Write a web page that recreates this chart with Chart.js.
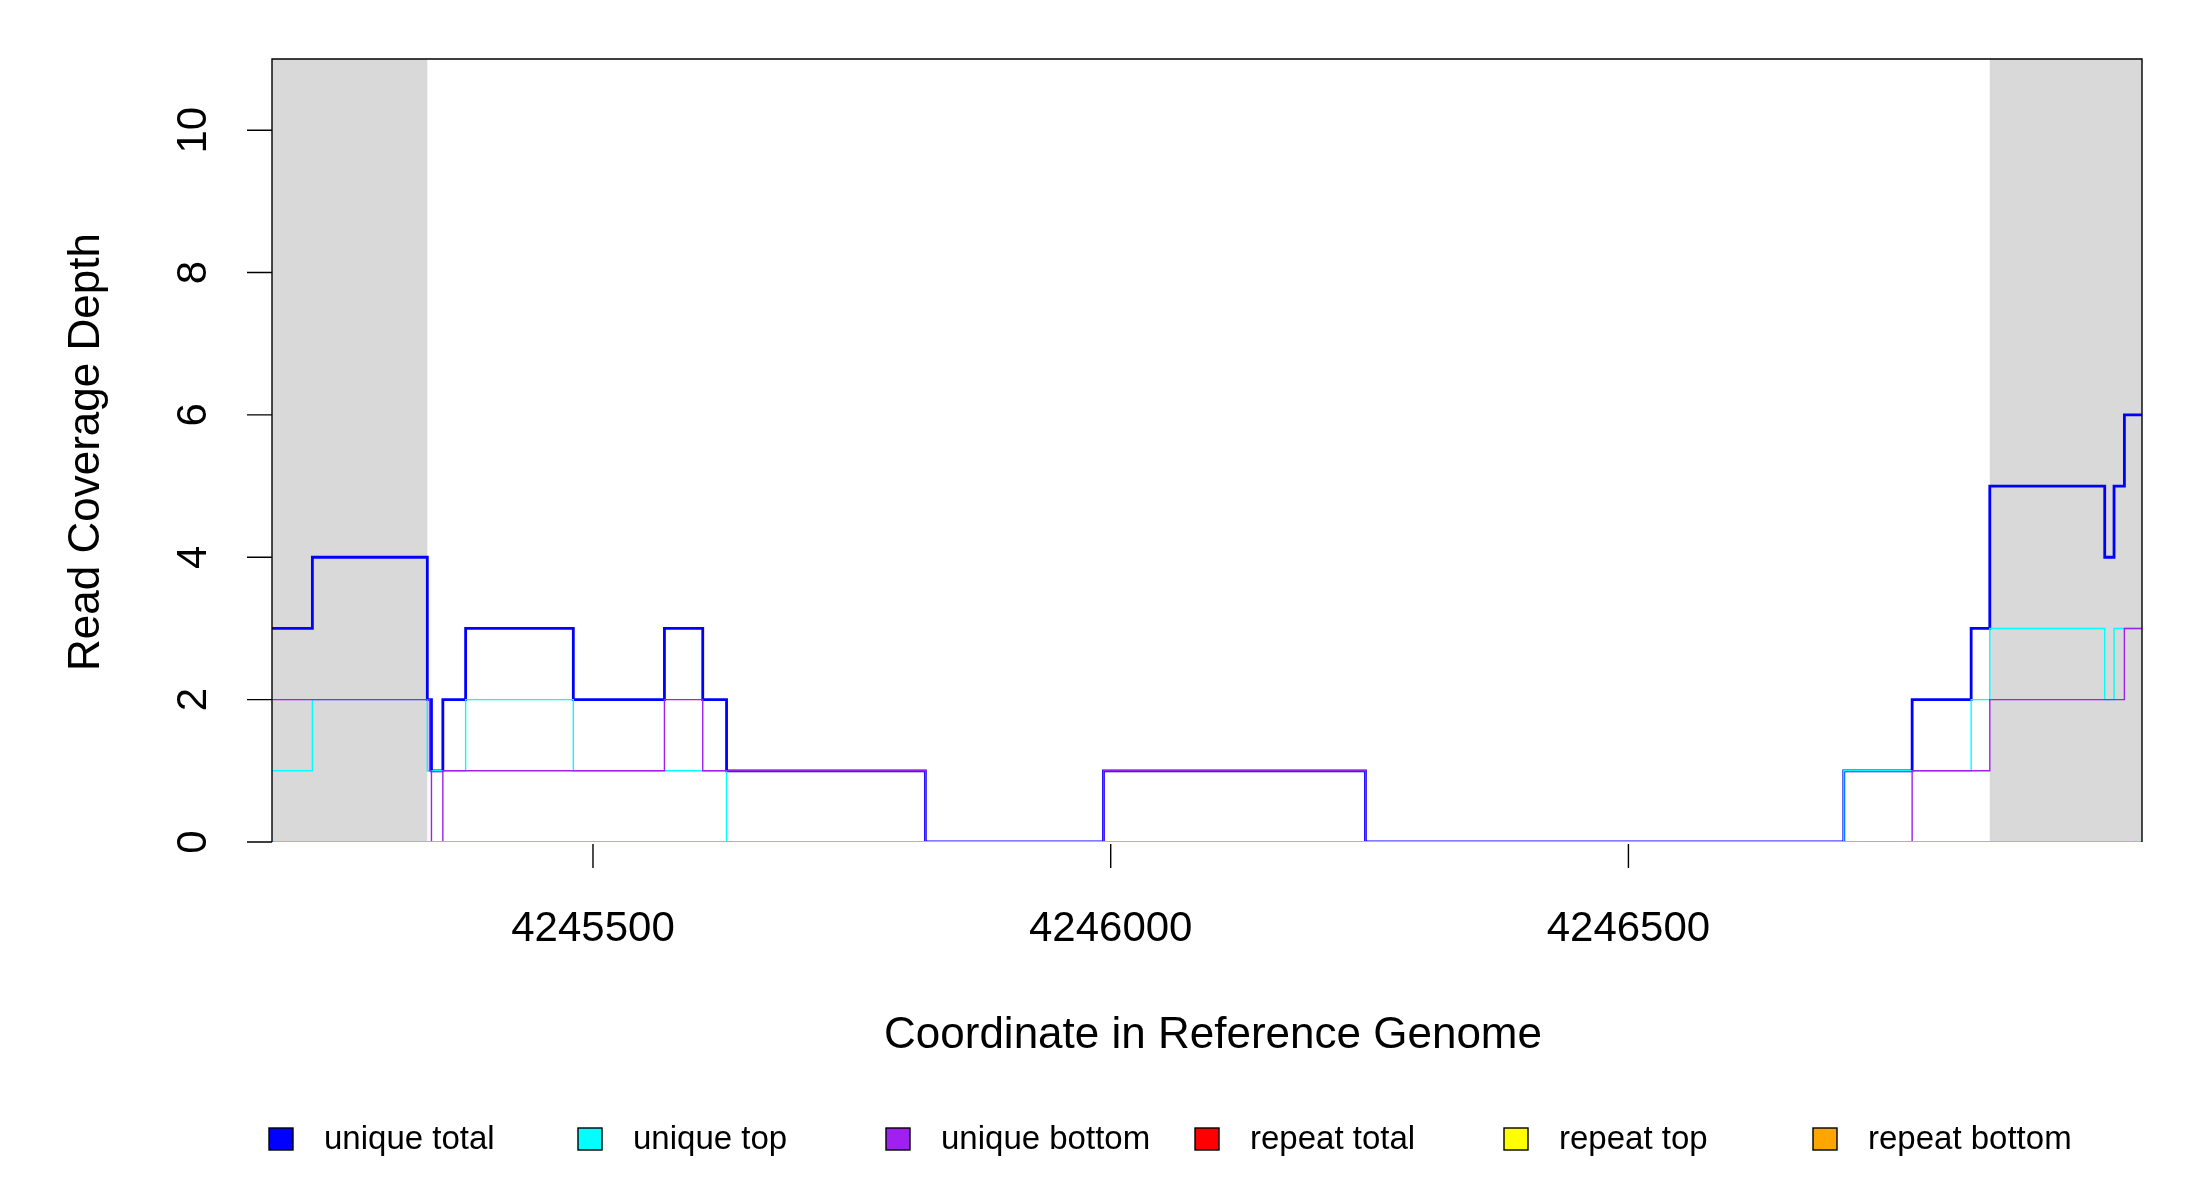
<!DOCTYPE html>
<html>
<head>
<meta charset="utf-8">
<script src="https://cdn.jsdelivr.net/npm/chart.js@4/dist/chart.umd.min.js"></script>
<style>
  html, body { margin: 0; padding: 0; background: #fff; }
  #wrap { width: 2200px; height: 1200px; }
</style>
</head>
<body>
<div id="wrap"><canvas id="cov" width="2200" height="1200"></canvas></div>
<script>
// coverage steps: each value is held from its start until the next start
const xMin = 4245190, xMax = 4246996;
const shadeRanges = [[4245190, 4245340], [4246849, 4246996]];
const xTicks = [4245500, 4246000, 4246500];
const yTicks = [0, 2, 4, 6, 8, 10];

const totalStarts = [4245190, 4245229, 4245340, 4245344, 4245355, 4245377, 4245481, 4245569, 4245606, 4245629, 4245821, 4245993, 4246246, 4246708, 4246774, 4246831, 4246849, 4246960, 4246969, 4246979];
const totalVals   = [3, 4, 2, 1, 2, 3, 2, 3, 2, 1, 0, 1, 0, 1, 2, 3, 5, 4, 5, 6];

const topStarts = [4245190, 4245229, 4245340, 4245377, 4245481, 4245629, 4246708, 4246831, 4246849, 4246960, 4246969];
const topVals   = [1, 2, 1, 2, 1, 0, 1, 2, 3, 2, 3];

const bottomStarts = [4245190, 4245342, 4245344, 4245355, 4245569, 4245606, 4245821, 4245993, 4246246, 4246774, 4246849, 4246979];
const bottomVals   = [2, 1, 0, 1, 2, 1, 0, 1, 0, 1, 2, 3];

const repeatStarts = [4245190];
const repeatVals   = [0];

const legendLabels = ['unique total', 'unique top', 'unique bottom', 'repeat total', 'repeat top', 'repeat bottom'];
const legendColors = ['#0000ff', '#00ffff', '#a020f0', '#ff0000', '#ffff00', '#ffa500'];

function steps(starts, vals) {
  const pts = starts.map((x, i) => ({ x: x, y: vals[i] }));
  pts.push({ x: xMax, y: vals[vals.length - 1] });
  return pts;
}

function ds(starts, vals, color, width) {
  return {
    data: steps(starts, vals),
    borderColor: color,
    borderWidth: width,
    pointRadius: 0,
    stepped: true,
    fill: false,
  };
}

// Chart.js paints dataset 0 last, so the top-most line comes first
const datasets = [
  ds(repeatStarts, repeatVals, '#ffa500', 1.4),
  ds(repeatStarts, repeatVals, '#ffff00', 1.4),
  ds(repeatStarts, repeatVals, '#ff0000', 1.4),
  ds(bottomStarts, bottomVals, '#a020f0', 1.4),
  ds(topStarts, topVals, '#00ffff', 1.4),
  ds(totalStarts, totalVals, '#0000ff', 2.8),
].reverse().reverse();
datasets.reverse();
// want: total underneath? no -- blue is on top in reference except orange on zero
datasets.reverse();

const font = '"Liberation Sans", Arial, sans-serif';

const decor = {
  id: 'decor',
  beforeDatasetsDraw(chart) {
    const ctx = chart.ctx, x = chart.scales.x, a = chart.chartArea;
    ctx.save();
    ctx.fillStyle = '#d9d9d9';
    shadeRanges.forEach(r => {
      const l = x.getPixelForValue(r[0]), rr = x.getPixelForValue(r[1]);
      ctx.fillRect(l, a.top, rr - l, a.bottom - a.top);
    });
    ctx.restore();
  },
  afterDraw(chart) {
    const ctx = chart.ctx, x = chart.scales.x, y = chart.scales.y, a = chart.chartArea;
    ctx.save();
    ctx.strokeStyle = '#000';
    ctx.lineWidth = 1.4;
    // frame
    ctx.beginPath();
    ctx.moveTo(a.left, a.bottom); ctx.lineTo(a.left, a.top);
    ctx.lineTo(a.right, a.top); ctx.lineTo(a.right, a.bottom);
    ctx.stroke();
    const y0 = y.getPixelForValue(0);
    // y ticks
    ctx.beginPath();
    yTicks.forEach(v => {
      const py = y.getPixelForValue(v);
      ctx.moveTo(a.left - 25, py); ctx.lineTo(a.left, py);
    });
    ctx.stroke();
    ctx.fillStyle = '#000';
    ctx.font = '42px ' + font;
    ctx.textAlign = 'center';
    ctx.textBaseline = 'middle';
    yTicks.forEach(v => {
      ctx.save();
      ctx.translate(194, y.getPixelForValue(v));
      ctx.rotate(-Math.PI / 2);
      ctx.fillText(String(v), 0, 0);
      ctx.restore();
    });
    // x ticks
    ctx.beginPath();
    xTicks.forEach(v => {
      const px = x.getPixelForValue(v);
      ctx.moveTo(px, y0 + 2); ctx.lineTo(px, y0 + 26);
    });
    ctx.stroke();
    xTicks.forEach(v => ctx.fillText(String(v), x.getPixelForValue(v), 929));
    // titles
    ctx.font = '44px ' + font;
    ctx.fillText('Coordinate in Reference Genome', 1213, 1036);
    ctx.save();
    ctx.translate(87, 452);
    ctx.rotate(-Math.PI / 2);
    ctx.fillText('Read Coverage Depth', 0, 0);
    ctx.restore();
    // legend
    ctx.font = '33px ' + font;
    ctx.textAlign = 'left';
    const lx = [281, 590, 898, 1207, 1516, 1825];
    legendLabels.forEach((t, i) => {
      ctx.fillStyle = legendColors[i];
      ctx.fillRect(lx[i] - 12, 1128, 24, 22);
      ctx.strokeRect(lx[i] - 12, 1128, 24, 22);
      ctx.fillStyle = '#000';
      ctx.fillText(t, lx[i] + 43, 1140);
    });
    ctx.restore();
  }
};

new Chart(document.getElementById('cov'), {
  type: 'line',
  data: { datasets: datasets },
  options: {
    responsive: false,
    animation: false,
    layout: { padding: { left: 272, right: 58, top: 59, bottom: 358 } },
    plugins: { legend: { display: false }, tooltip: { enabled: false } },
    scales: {
      x: { type: 'linear', min: xMin, max: xMax, display: false },
      y: { type: 'linear', min: 0, max: 11, display: false },
    },
  },
  plugins: [decor],
});
</script>
</body>
</html>
